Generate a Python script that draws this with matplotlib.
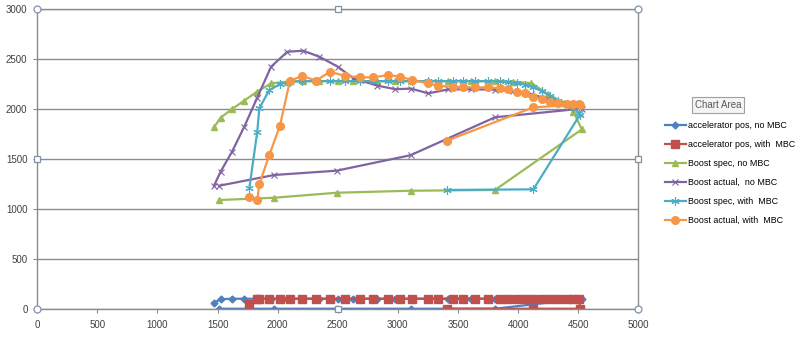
import numpy as np
import matplotlib
matplotlib.use('Agg')
import matplotlib.pyplot as plt

plt.rcParams['font.family'] = ['Liberation Sans', 'DejaVu Sans']

# rpm sin MBC: subida y luego regreso
rpm_no = [1470, 1525, 1620, 1722, 1828, 1945, 2080, 2213, 2346, 2500, 2630, 2830,
          2976, 3110, 3253, 3420, 3610, 3808, 3960, 4110, 4250, 4380, 4460, 4530,
          3808, 3105, 2490, 1972, 1512]
acc_no = [60, 95, 100, 100, 100, 100, 100, 100, 100, 100, 100, 100,
          100, 100, 100, 100, 100, 100, 100, 100, 100, 100, 100, 100,
          0, 0, 0, 0, 0]
spec_no = [1818, 1914, 2001, 2085, 2175, 2258, 2275, 2280, 2280, 2280, 2280, 2280,
           2280, 2280, 2280, 2280, 2280, 2280, 2275, 2260, 2150, 2060, 1974, 1797,
           1190, 1182, 1162, 1112, 1089]
act_no = [1232, 1373, 1573, 1824, 2110, 2425, 2575, 2585, 2525, 2425, 2308, 2235,
          2200, 2205, 2158, 2198, 2198, 2195, 2180, 2150, 2100, 2060, 2025, 2005,
          1918, 1538, 1383, 1340, 1232]

# rpm con MBC
rpm_mbc = [1764, 1830, 1847, 1930, 2019, 2102, 2205, 2319, 2435, 2560, 2685, 2795,
           2920, 3017, 3115, 3253, 3336, 3461, 3544, 3641, 3753, 3850, 3919, 3988,
           4057, 4127, 4196, 4265, 4334, 4404, 4459, 4509,
           4515, 4127, 3406]
acc_mbc = [50] + [100] * 31 + [0, 0, 0]
spec_mbc = [1206, 1774, 2008, 2190, 2250, 2275, 2280, 2280, 2280, 2280, 2280, 2280,
            2280, 2280, 2280, 2280, 2280, 2280, 2280, 2280, 2280, 2278, 2272, 2262,
            2245, 2218, 2180, 2135, 2085, 2045, 2010, 1960,
            1945, 1196, 1190]
act_mbc = [1122, 1089, 1246, 1540, 1834, 2285, 2332, 2285, 2375, 2332, 2318, 2318,
           2342, 2325, 2292, 2258, 2232, 2225, 2220, 2218, 2218, 2208, 2198, 2175,
           2158, 2125, 2098, 2074, 2058, 2051, 2051, 2051,
           2045, 2018, 1683]

fig = plt.figure(figsize=(8, 3.41), dpi=100)
ax = fig.add_axes([0.0466, 0.0947, 0.7513, 0.878])

ax.plot(rpm_no, acc_no, '-D', color='#4F81BD', lw=1.6, ms=3.5, label='accelerator pos, no MBC')
ax.plot(rpm_mbc, acc_mbc, '-s', color='#C0504D', lw=1.6, ms=6, label='accelerator pos, with  MBC')
ax.plot(rpm_no, spec_no, '-^', color='#9BBB59', lw=1.6, ms=5, label='Boost spec, no MBC')
ax.plot(rpm_no, act_no, '-x', color='#8064A2', lw=1.6, ms=5, mew=0.8, label='Boost actual,  no MBC')
ax.plot(rpm_mbc, spec_mbc, '-', marker=(6, 2, 0), color='#4BACC6', lw=1.6, ms=6, mew=0.8,
        label='Boost spec, with  MBC')
ax.plot(rpm_mbc, act_mbc, '-o', color='#F79646', lw=1.6, ms=5.5, label='Boost actual, with  MBC')

ax.set_xlim(0, 5000)
ax.set_ylim(0, 3000)
ax.set_xticks(np.arange(0, 5001, 500))
ax.set_yticks(np.arange(0, 3001, 500))
ax.yaxis.grid(True, color='#8c8c8c', lw=1)
ax.set_axisbelow(True)
for s in ax.spines.values():
    s.set_color('#8c8c8c')
    s.set_linewidth(1)
ax.tick_params(axis='both', colors='#8c8c8c', labelcolor='#404040', labelsize=7, length=3)
ax.tick_params(axis='x', pad=5)
ax.tick_params(axis='y', pad=4)

# marcas de selección del área de trazado
hx = [0, 1, 0, 1]
hy = [0, 0, 1, 1]
ax.plot(hx, hy, 'o', ms=5, mfc='white', mec='#7f93a8', mew=0.9, ls='none',
        transform=ax.transAxes, clip_on=False, zorder=10)
ax.plot([0.5, 0.5, 0, 1], [0, 1, 0.5, 0.5], 's', ms=4, mfc='white', mec='#7f93a8', mew=0.9,
        ls='none', transform=ax.transAxes, clip_on=False, zorder=10)

fig.legend(loc='upper left', bbox_to_anchor=(0.826, 0.658), frameon=False, fontsize=6.4,
           handlelength=2.3, handletextpad=0.3, labelspacing=1.12, borderpad=0)

fig.text(0.8975, 0.692, 'Chart Area', fontsize=7, color='#595959', ha='center', va='center',
         bbox=dict(boxstyle='square,pad=0.3', fc='#f4f4f4', ec='#a0a0a0', lw=0.8))

plt.savefig('out.png', dpi=100)
